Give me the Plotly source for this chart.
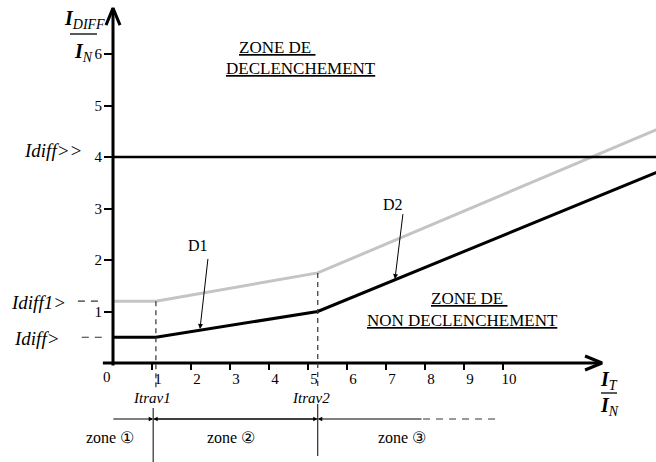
import plotly.graph_objects as go

# ---------------- data ----------------
x_ticks = [1, 2, 3, 4, 5, 6, 7, 8, 9, 10]
y_ticks = [1, 2, 3, 4, 5, 6]

itrav1 = 1.1
itrav2 = 5.25
idiff_low = 0.5        # Idiff>
idiff1_low = 1.2       # Idiff1>
idiff_high = 4.0       # Idiff>>

d1_x = [0, itrav1, itrav2, 14]
d1_y = [idiff_low, idiff_low, 1.0, 3.72]
d1b_x = [0, itrav1, itrav2, 14]
d1b_y = [idiff1_low, idiff1_low, 1.75, 4.55]

# --------------- scales ----------------
W, H = 656, 462
PX0, UX = 113, 39.0      # pixel of x=0, pixels per unit
PY0, UY = 363, 51.5      # pixel of y=0, pixels per unit
x_range = [-PX0 / UX, (W - PX0) / UX]
y_range = [(PY0 - H) / UY, PY0 / UY]

FONT = "Liberation Serif, Times New Roman, Times, serif"

fig = go.Figure()

fig.add_trace(go.Scatter(x=d1b_x, y=d1b_y, mode="lines",
                         line=dict(color="#c4c4c4", width=3), hoverinfo="skip"))
fig.add_trace(go.Scatter(x=d1_x, y=d1_y, mode="lines",
                         line=dict(color="black", width=3), hoverinfo="skip"))
fig.add_trace(go.Scatter(x=[0, 14], y=[idiff_high, idiff_high], mode="lines",
                         line=dict(color="black", width=2.5), hoverinfo="skip"))

# axes lines with open arrowheads
x_end = 12.54
y_end = 6.89
fig.add_trace(go.Scatter(x=[-0.26, x_end], y=[0, 0], mode="lines",
                         line=dict(color="black", width=3), hoverinfo="skip"))
fig.add_trace(go.Scatter(x=[0, 0], y=[-0.05, y_end], mode="lines",
                         line=dict(color="black", width=3), hoverinfo="skip"))
ahx, ahy = 17 / UX, 7 / UY
fig.add_trace(go.Scatter(x=[x_end - ahx, x_end, x_end - ahx], y=[ahy, 0, -ahy],
                         mode="lines", line=dict(color="black", width=3), hoverinfo="skip"))
avx, avy = 7 / UX, 17 / UY
fig.add_trace(go.Scatter(x=[-avx, 0, avx], y=[y_end - avy, y_end, y_end - avy],
                         mode="lines", line=dict(color="black", width=3), hoverinfo="skip"))

shapes = []
dash = "5px,4px"
shapes.append(dict(type="line", x0=itrav1, x1=itrav1, y0=idiff1_low, y1=-0.49,
                   line=dict(color="#333", width=1.2, dash=dash)))
shapes.append(dict(type="line", x0=itrav2, x1=itrav2, y0=1.75, y1=-0.45,
                   line=dict(color="#333", width=1.2, dash=dash)))
shapes.append(dict(type="line", x0=-0.9, x1=-0.28, y0=idiff1_low, y1=idiff1_low,
                   line=dict(color="#333", width=1.2, dash="7px,6px")))
shapes.append(dict(type="line", x0=-0.8, x1=-0.15, y0=idiff_low, y1=idiff_low,
                   line=dict(color="#333", width=1.2, dash="7px,6px")))
zy = (PY0 - 419) / UY
x1d = itrav1 - 0.07
shapes.append(dict(type="line", x0=x1d, x1=x1d,
                   y0=(PY0 - 408) / UY, y1=y_range[0],
                   line=dict(color="black", width=1)))
shapes.append(dict(type="line", x0=itrav2, x1=itrav2,
                   y0=(PY0 - 404) / UY, y1=(PY0 - 456) / UY,
                   line=dict(color="black", width=1)))
shapes.append(dict(type="line", x0=7.95, x1=9.85, y0=zy, y1=zy,
                   line=dict(color="#333", width=1, dash="7px,6px")))
# fraction bars of axis titles
shapes.append(dict(type="line", x0=(70 - PX0) / UX, x1=(97 - PX0) / UX,
                   y0=(PY0 - 34) / UY, y1=(PY0 - 34) / UY,
                   line=dict(color="black", width=1.3)))
shapes.append(dict(type="line", x0=(601 - PX0) / UX, x1=(617 - PX0) / UX,
                   y0=(PY0 - 393) / UY, y1=(PY0 - 393) / UY,
                   line=dict(color="black", width=1.3)))

ann = []
def txt(x, y, s, size=14, italic=False, xanchor="center"):
    ann.append(dict(x=x, y=y, text=s, showarrow=False, xanchor=xanchor,
                    yanchor="middle", borderpad=0,
                    font=dict(family=FONT, size=size, color="black",
                              style="italic" if italic else "normal")))

def arrow(x, y, ax, ay, width=1, size=1.0, head=2):
    ann.append(dict(x=x, y=y, ax=ax, ay=ay, axref="x", ayref="y", text=" ",
                    font=dict(size=1),
                    showarrow=True, arrowhead=head, arrowsize=size,
                    arrowwidth=width, arrowcolor="black", standoff=0))

arrow(x1d, zy, -0.03, zy, size=0.9)
arrow(x1d, zy, itrav2, zy, size=0.9)
arrow(itrav2, zy, x1d, zy, size=0.9)
arrow(itrav2, zy, 7.95, zy, size=0.9)

arrow(2.23, 0.66, 2.44, 2.06, head=2, size=1.0)
arrow(7.23, 1.63, 7.44, 2.93, head=2, size=1.0)
txt(2.18, 2.29, "D1", size=16)
txt(7.18, 3.07, "D2", size=16)

txt(4.2, (PY0 - 47) / UY, "<u>ZONE DE </u>", size=17)
txt(4.82, (PY0 - 68) / UY, "<u>DECLENCHEMENT</u>", size=17)
txt(9.13, (PY0 - 298) / UY, "<u>ZONE DE </u>", size=17)
txt(8.97, (PY0 - 320) / UY, "<u>NON DECLENCHEMENT</u>", size=17)

txt((83 - PX0) / UX, (PY0 - 150) / UY, "Idiff>>", size=19, italic=True, xanchor="right")
txt((67 - PX0) / UX, (PY0 - 302) / UY, "Idiff1>", size=19, italic=True, xanchor="right")
txt((61 - PX0) / UX, (PY0 - 338) / UY, "Idiff>", size=19, italic=True, xanchor="right")

txt((152 - PX0) / UX, (PY0 - 398) / UY, "Itrav1", size=15, italic=True)
txt((311 - PX0) / UX, (PY0 - 398) / UY, "Itrav2", size=15, italic=True)

txt((110 - PX0) / UX, (PY0 - 437) / UY, "zone ①", size=16)
txt(3.03, (PY0 - 437) / UY, "zone ②", size=16)
txt(7.4, (PY0 - 437) / UY, "zone ③", size=16)

txt((107 - PX0) / UX, (PY0 - 377) / UY, "0", size=15)

txt((84 - PX0) / UX, (PY0 - 19) / UY,
    "<i><b>I</b></i><sub><i>DIFF</i></sub>", size=20)
txt((83 - PX0) / UX, (PY0 - 52) / UY,
    "<i><b>I</b></i><sub><i>N</i></sub>", size=20)
txt((609 - PX0) / UX, (PY0 - 380) / UY,
    "<i><b>I</b></i><sub><i>T</i></sub>", size=20)
txt((609 - PX0) / UX, (PY0 - 406) / UY,
    "<i><b>I</b></i><sub><i>N</i></sub>", size=20)

fig.update_layout(
    width=W, height=H,
    margin=dict(l=0, r=0, t=0, b=0),
    paper_bgcolor="white", plot_bgcolor="white",
    showlegend=False,
    shapes=shapes,
    annotations=ann,
    font=dict(family=FONT),
    xaxis=dict(range=x_range, showgrid=False, zeroline=False, showline=False,
               tickvals=x_ticks, ticks="outside", ticklen=6, tickwidth=1.5,
               tickcolor="black", anchor="free",
               position=(H - PY0) / H, automargin=False,
               ticklabelshift=6, ticklabelstandoff=-4,
               tickfont=dict(family=FONT, size=15, color="black"),
               fixedrange=True),
    yaxis=dict(range=y_range, showgrid=False, zeroline=False, showline=False,
               tickvals=y_ticks, ticks="outside", ticklen=9, tickwidth=1.5,
               tickcolor="black", anchor="free",
               position=PX0 / W, automargin=False, ticklabelstandoff=-1,
               tickfont=dict(family=FONT, size=15, color="black"),
               fixedrange=True),
)

fig.write_html("out.html", config={"displayModeBar": False},
               post_script="document.body.style.margin='0';")
